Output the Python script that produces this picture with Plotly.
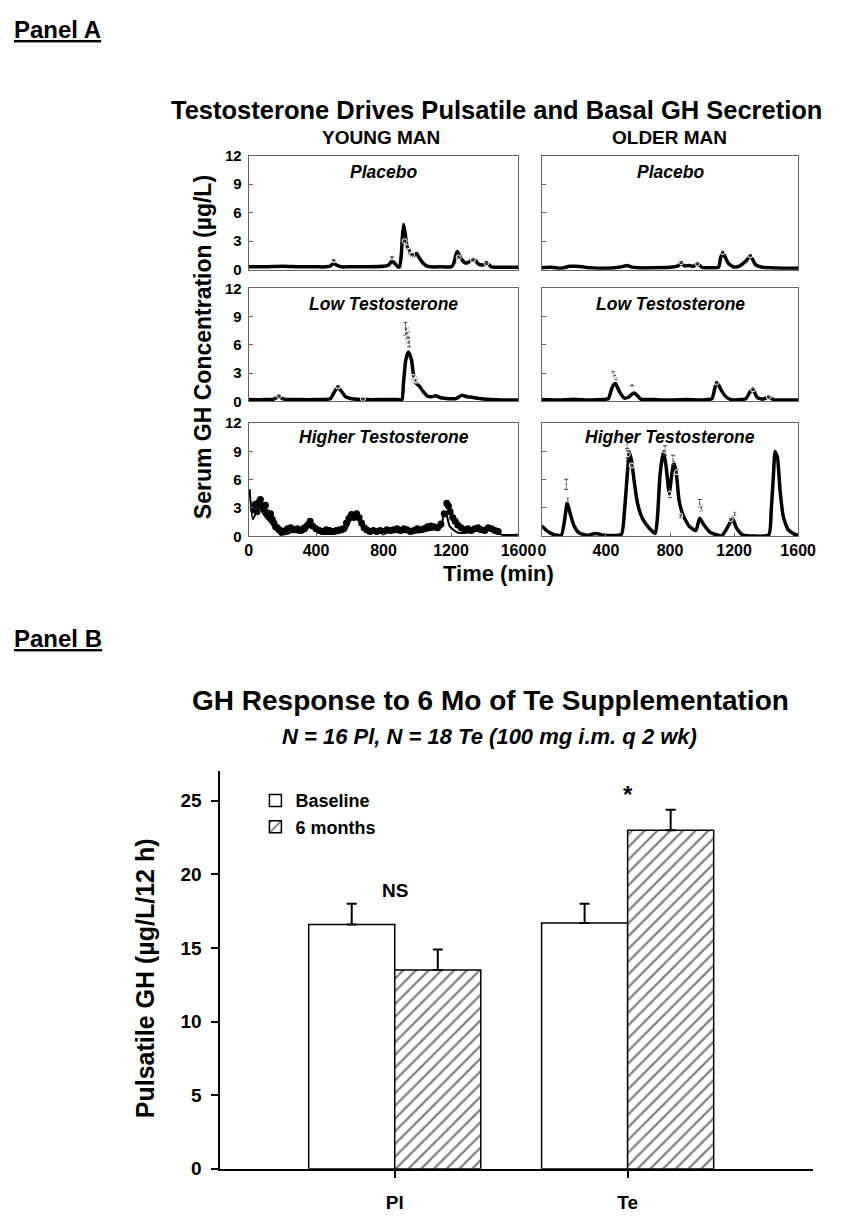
import plotly.graph_objects as go

W, H = 860, 1226
FONT = "Liberation Sans, Arial, sans-serif"


def px_x(x):
    return x / W


def px_y(y):
    return 1 - y / H


# ---------------- Panel A data (time in min, GH in ug/L) ----------------
yp_fit_t = [0, 100, 200, 300, 400, 460, 490, 505, 520, 550,
            600, 700, 800, 830, 850, 870, 885, 895, 905, 912,
            919, 928, 938, 950, 967, 980, 996, 1010, 1025, 1040,
            1054, 1080, 1150, 1200, 1215, 1228, 1237, 1250, 1266, 1285,
            1305, 1320, 1333, 1348, 1362, 1385, 1400, 1410, 1420, 1439,
            1460, 1500, 1600]
yp_fit_y = [0.3, 0.3, 0.35, 0.3, 0.3, 0.3, 0.45, 0.7, 0.5, 0.3,
            0.3, 0.3, 0.35, 0.5, 0.9, 0.6, 0.3, 0.3, 1.5, 3.5,
            4.75, 3.8, 2.6, 2.0, 1.5, 1.5, 1.7, 1.3, 0.9, 0.6,
            0.4, 0.3, 0.3, 0.3, 0.6, 1.5, 1.9, 1.5, 1.0, 0.7,
            0.8, 1.0, 1.1, 0.9, 0.6, 0.5, 0.6, 0.8, 0.6, 0.3,
            0.25, 0.25, 0.25]
yp_obs_t = [505, 850, 925, 940, 955, 970, 1245, 1330, 1410]
yp_obs_y = [1.0, 1.3, 3.0, 2.4, 2.0, 1.6, 1.3, 1.0, 0.7]
yp_obs_e = [0.05, 0.1, 0.2, 0.15, 0.1, 0.1, 0.1, 0.05, 0.05]

op_fit_t = [0, 60, 120, 172, 210, 253, 300, 400, 480, 510,
            532, 555, 600, 700, 800, 850, 870, 890, 920, 945,
            971, 1000, 1050, 1103, 1115, 1129, 1145, 1163, 1194, 1220,
            1244, 1274, 1301, 1318, 1335, 1376, 1420, 1500, 1600]
op_fit_y = [0.2, 0.25, 0.15, 0.35, 0.35, 0.3, 0.2, 0.15, 0.25, 0.35,
            0.45, 0.3, 0.2, 0.2, 0.25, 0.4, 0.7, 0.4, 0.45, 0.35,
            0.6, 0.25, 0.2, 0.25, 1.2, 1.8, 1.3, 0.7, 0.3, 0.3,
            0.5, 0.9, 1.45, 1.0, 0.5, 0.25, 0.2, 0.15, 0.15]
op_obs_t = [870, 971, 1129, 1301]
op_obs_y = [0.8, 0.65, 1.85, 1.5]
op_obs_e = [0.05, 0.05, 0.1, 0.1]

yl_fit_t = [0, 100, 150, 179, 210, 300, 400, 470, 486, 505,
            528, 550, 572, 611, 700, 800, 880, 909, 918, 932,
            947, 966, 976, 995, 1014, 1033, 1062, 1085, 1110, 1139,
            1187, 1230, 1264, 1295, 1322, 1379, 1437, 1500, 1600]
yl_fit_y = [0.2, 0.2, 0.25, 0.5, 0.25, 0.2, 0.2, 0.25, 0.3, 0.9,
            1.5, 1.1, 0.55, 0.3, 0.2, 0.2, 0.2, 0.2, 1.9, 4.4,
            5.25, 4.4, 3.0, 1.9, 1.6, 1.1, 0.55, 0.5, 0.6, 0.4,
            0.3, 0.3, 0.65, 0.5, 0.45, 0.3, 0.2, 0.15, 0.15]
yl_obs_t = [180, 530, 678, 930, 938, 945, 952, 975, 985, 995]
yl_obs_y = [0.6, 1.6, 0.3, 7.7, 7.2, 6.8, 6.3, 2.6, 2.3, 2.2]
yl_obs_e = [0.1, 0.1, 0.05, 0.7, 0.6, 0.6, 0.5, 0.3, 0.3, 0.2]

ol_fit_t = [0, 100, 200, 300, 380, 415, 435, 447, 459, 472,
            486, 516, 545, 560, 577, 597, 617, 700, 800, 900,
            1000, 1062, 1078, 1092, 1108, 1123, 1153, 1183, 1240, 1274,
            1295, 1315, 1330, 1345, 1380, 1416, 1446, 1500, 1600]
ol_fit_y = [0.2, 0.15, 0.25, 0.15, 0.2, 0.3, 1.3, 1.75, 1.9, 1.5,
            1.0, 0.35, 0.5, 0.75, 0.9, 0.6, 0.25, 0.2, 0.15, 0.2,
            0.15, 0.3, 1.3, 2.05, 1.6, 1.1, 0.45, 0.2, 0.2, 0.3,
            0.9, 1.35, 0.9, 0.4, 0.25, 0.45, 0.2, 0.15, 0.15]
ol_obs_t = [445, 452, 456, 462, 563, 1090, 1318, 1416]
ol_obs_y = [3.1, 2.8, 2.65, 2.4, 1.7, 2.0, 1.3, 0.5]
ol_obs_e = [0.1, 0.1, 0.1, 0.1, 0.05, 0.1, 0.05, 0.05]

yh_fit_t = [6, 25, 44, 64, 83, 112, 141, 170, 189, 227,
            266, 305, 343, 366, 391, 420, 478, 536, 575, 603,
            628, 652, 681, 709, 800, 900, 1000, 1060, 1114, 1143,
            1157, 1168, 1191, 1220, 1249, 1300, 1346, 1380, 1423, 1450,
            1481, 1500, 1600]
yh_fit_y = [5.0, 1.8, 2.5, 3.25, 2.5, 1.8, 1.3, 0.6, 0.15, 0.25,
            0.5, 0.35, 0.6, 1.3, 0.7, 0.35, 0.25, 0.35, 0.6, 1.65,
            2.2, 1.65, 0.7, 0.35, 0.4, 0.45, 0.4, 0.6, 0.8, 0.95,
            2.5, 2.6, 1.1, 0.6, 0.35, 0.4, 0.6, 0.45, 0.7, 0.5,
            0.35, 0.15, 0.15]
yh_obs_t = [30, 40, 50, 60, 70, 80, 90, 100, 110, 120, 130, 140, 150, 160, 170, 180, 190,
            210, 230, 250, 270, 290, 310, 330, 350, 365, 380, 400, 420, 440, 460, 480, 500, 520, 540, 560,
            580, 595, 610, 625, 640, 655, 670, 685, 700,
            720, 740, 760, 780, 800, 820, 840, 860, 880, 900, 920, 940, 960, 980, 1000, 1020, 1040, 1060,
            1080, 1100, 1120,
            1140, 1160, 1175, 1185, 1195, 1210, 1225, 1240, 1260, 1280, 1300, 1320, 1340, 1360, 1380,
            1400, 1420, 1440, 1460, 1480]
yh_obs_y = [2.8, 3.4, 2.6, 3.6, 3.9, 3.2, 2.9, 3.3, 2.5, 2.2, 2.4, 1.8, 1.4, 1.0, 0.9, 0.7, 0.6,
            0.5, 0.8, 0.9, 0.7, 0.8, 0.6, 0.9, 1.2, 1.6, 1.1, 0.8, 0.6, 0.5, 0.7, 0.6, 0.5, 0.6, 0.7, 0.8,
            1.4, 1.9, 2.3, 2.0, 2.4, 2.0, 1.4, 0.9, 0.7,
            0.5, 0.6, 0.5, 0.6, 0.5, 0.7, 0.6, 0.7, 0.8, 0.6, 0.8, 0.7, 0.5, 0.6, 0.8, 0.7, 0.8, 1.0,
            1.1, 1.0, 0.9,
            1.3, 2.4, 3.5, 3.2, 2.6, 2.0, 1.6, 1.2, 0.9, 0.7, 0.8, 0.6, 0.8, 0.9, 0.7,
            0.6, 0.9, 0.8, 0.6, 0.5]

oh_fit_t = [0, 30, 71, 121, 142, 158, 176, 202, 233, 283,
            334, 394, 496, 516, 532, 546, 560, 577, 597, 627,
            668, 708, 722, 738, 759, 775, 795, 809, 823, 840,
            856, 880, 920, 961, 985, 1012, 1052, 1123, 1167, 1190,
            1214, 1254, 1416, 1432, 1446, 1456, 1471, 1487, 1507, 1537,
            1578, 1600]
oh_fit_y = [1.1, 0.6, 0.2, 0.1, 1.75, 3.55, 2.45, 1.05, 0.35, 0.1,
            0.3, 0.1, 0.2, 2.8, 6.3, 8.9, 8.0, 5.75, 3.5, 1.9,
            0.9, 0.3, 2.1, 6.6, 9.0, 7.5, 4.5, 6.3, 7.85, 6.6,
            3.85, 2.3, 1.05, 0.6, 1.9, 1.2, 0.4, 0.05, 1.2, 1.9,
            0.9, 0.15, 0.15, 2.8, 6.6, 9.0, 8.35, 4.9, 2.1, 0.7,
            0.2, 0.1]
oh_obs_t = [152, 162, 532, 536, 560, 769, 799, 819, 844, 864, 985, 995, 1179, 1204]
oh_obs_y = [5.5, 3.9, 9.8, 8.7, 7.5, 9.1, 4.5, 8.1, 6.8, 2.15, 3.5, 3.0, 1.8, 2.35]
oh_obs_e = [0.55, 0.2, 0.5, 0.4, 0.3, 0.5, 0.4, 0.5, 0.3, 0.2, 0.4, 0.3, 0.1, 0.2]

time_ticks = [0, 400, 800, 1200, 1600]
gh_ticks = [0, 3, 6, 9, 12]
row_labels = ["Placebo", "Low Testosterone", "Higher Testosterone"]
col_labels = ["YOUNG MAN", "OLDER MAN"]

# ---------------- Panel B data ----------------
groups = ["Pl", "Te"]
baseline_vals = [16.6, 16.7]
baseline_err = [1.4, 1.3]
six_month_vals = [13.5, 23.0]
six_month_err = [1.4, 1.4]
gh_b_ticks = [0, 5, 10, 15, 20, 25]

for a, b in [(yp_fit_t, yp_fit_y), (op_fit_t, op_fit_y), (yl_fit_t, yl_fit_y),
             (ol_fit_t, ol_fit_y), (yh_fit_t, yh_fit_y), (oh_fit_t, oh_fit_y),
             (yh_obs_t, yh_obs_y), (oh_obs_t, oh_obs_y)]:
    assert len(a) == len(b), (len(a), len(b))

fig = go.Figure()

cols_px = [(251, 528), (552, 815)]
rows_px = [(149, 265), (284, 399), (421, 536)]

panels = [
    (0, 0, yp_fit_t, yp_fit_y, yp_obs_t, yp_obs_y, yp_obs_e),
    (0, 1, op_fit_t, op_fit_y, op_obs_t, op_obs_y, op_obs_e),
    (1, 0, yl_fit_t, yl_fit_y, yl_obs_t, yl_obs_y, yl_obs_e),
    (1, 1, ol_fit_t, ol_fit_y, ol_obs_t, ol_obs_y, ol_obs_e),
    (2, 0, yh_fit_t, yh_fit_y, yh_obs_t, yh_obs_y, None),
    (2, 1, oh_fit_t, oh_fit_y, oh_obs_t, oh_obs_y, oh_obs_e),
]

axis_common = dict(showline=True, mirror=True, linecolor="#666", linewidth=1,
                   showgrid=False, zeroline=False)
tickfont_a = dict(family=FONT, size=15, color="black", weight="bold")

for i, (r, c, ft, fy, ot, oy, oe) in enumerate(panels):
    n = i + 1
    xa = "x" if n == 1 else f"x{n}"
    ya = "y" if n == 1 else f"y{n}"
    x0, x1 = cols_px[c]
    y0, y1 = rows_px[r]
    bottom = r == 2
    if oe is None:
        fig.add_trace(go.Scatter(x=ot, y=oy, mode="markers", xaxis=xa, yaxis=ya,
                                 marker=dict(color="black", size=7, symbol="circle"),
                                 showlegend=False, hoverinfo="x+y"))
        lw = 2
    else:
        lw = 3.5
    fig.add_trace(go.Scatter(x=ft, y=fy, mode="lines", xaxis=xa, yaxis=ya,
                             line=dict(color="black", width=lw, shape="spline", smoothing=0.5),
                             showlegend=False))
    if oe is not None:
        fig.add_trace(go.Scatter(x=ot, y=oy, mode="markers", xaxis=xa, yaxis=ya,
                                 marker=dict(color="white", size=5, symbol="circle-open",
                                             line=dict(color="#444", width=1)),
                                 error_y=dict(type="data", array=oe, color="#444",
                                              thickness=1, width=2),
                                 showlegend=False))
    xkey = "xaxis" if n == 1 else f"xaxis{n}"
    ykey = "yaxis" if n == 1 else f"yaxis{n}"
    fig.layout[xkey] = dict(
        domain=[px_x(x0), px_x(x1)], anchor=ya, range=[0, 1600],
        tickvals=time_ticks, showticklabels=bottom,
        ticks="inside" if bottom else "", ticklen=3, tickcolor="#666",
        tickfont=dict(family=FONT, size=16, color="black", weight="bold"),
        **axis_common)
    fig.layout[ykey] = dict(
        domain=[px_y(y1), px_y(y0)], anchor=xa, range=[0, 12],
        tickvals=gh_ticks, showticklabels=(c == 0),
        ticks="inside", ticklen=4, tickcolor="#666",
        tickfont=tickfont_a, ticklabelstandoff=3,
        **axis_common)

fig.add_trace(go.Bar(x=[0, 1], y=baseline_vals, name="Baseline", xaxis="x7", yaxis="y7",
                     marker=dict(color="white", line=dict(color="black", width=1.5)),
                     error_y=dict(type="data", symmetric=False, array=baseline_err,
                                  arrayminus=[0, 0], color="black", thickness=2, width=5)))
fig.add_trace(go.Bar(x=[0, 1], y=six_month_vals, name="6 months", xaxis="x7", yaxis="y7",
                     marker=dict(color="white", line=dict(color="black", width=1.5),
                                 pattern=dict(shape="/", fgcolor="black", bgcolor="white",
                                              size=9, solidity=0.25)),
                     error_y=dict(type="data", symmetric=False, array=six_month_err,
                                  arrayminus=[0, 0], color="black", thickness=2, width=5)))

fig.update_layout(
    xaxis7=dict(domain=[px_x(222), px_x(830)], anchor="y7", range=[-0.749, 1.795],
                tickvals=[0, 1], ticktext=groups, ticks="outside", ticklen=7, tickwidth=1.5,
                tickcolor="black", showline=True, linewidth=2, linecolor="black",
                showgrid=False, zeroline=False, ticklabelstandoff=8,
                tickfont=dict(family=FONT, size=19, color="black", weight="bold")),
    yaxis7=dict(domain=[px_y(1179), px_y(775)], anchor="x7", range=[0, 27],
                tickvals=gh_b_ticks, ticks="outside", ticklen=7, tickwidth=1.5,
                tickcolor="black", showline=True, linewidth=2, linecolor="black",
                showgrid=False, zeroline=False, ticklabelstandoff=6,
                tickfont=dict(family=FONT, size=19, color="black", weight="bold")),
    barmode="group", bargap=0.261, bargroupgap=0,
)

annotations = []


def ann(text, x, y, size, rot=0, xanchor="center", yanchor="middle", **font_kw):
    annotations.append(dict(text=text, x=px_x(x), y=px_y(y), xref="paper", yref="paper",
                            showarrow=False, xanchor=xanchor, yanchor=yanchor, textangle=rot,
                            font=dict(family=FONT, size=size, color="black", **font_kw)))


ann("<b>Panel A</b>", 8, 21, 24, xanchor="left", lineposition="under")
ann("<b>Panel B</b>", 8, 640, 24, xanchor="left", lineposition="under")
ann("<b>Testosterone Drives Pulsatile and Basal GH Secretion</b>", 505, 103, 25.5)
ann("<b>" + col_labels[0] + "</b>", 387, 131, 19)
ann("<b>" + col_labels[1] + "</b>", 683, 131, 19)
row_label_y = [166, 300, 435]
for r in range(3):
    for c in range(2):
        cx = (cols_px[c][0] + cols_px[c][1]) / 2
        ann("<b><i>" + row_labels[r] + "</i></b>", cx, row_label_y[r], 17.5)
ann("<b>Serum GH Concentration (µg/L)</b>", 205, 344, 23, rot=-90)
ann("<b>Time (min)</b>", 507, 574, 22)

ann("<b>GH Response to 6 Mo of Te Supplementation</b>", 499, 703, 28)
ann("<b><i>N = 16 Pl, N = 18 Te (100 mg i.m. q 2 wk)</i></b>", 498, 740, 22)
ann("<b>Pulsatile GH (µg/L/12 h)</b>", 145, 985, 25, rot=-90)

annotations.append(dict(text="<b>NS</b>", x=0, y=18.9, xref="x7", yref="y7", showarrow=False,
                        font=dict(family=FONT, size=19, color="black")))
annotations.append(dict(text="<b>*</b>", x=1, y=25.4, xref="x7", yref="y7", showarrow=False,
                        font=dict(family=FONT, size=24, color="black")))

fig.update_layout(
    width=W, height=H, margin=dict(l=0, r=0, t=0, b=0),
    paper_bgcolor="white", plot_bgcolor="white",
    annotations=annotations,
    legend=dict(x=px_x(258), y=px_y(786), xanchor="left", yanchor="top",
                bgcolor="rgba(0,0,0,0)", tracegroupgap=2, itemwidth=30,
                font=dict(family=FONT, size=18, color="black", weight="bold")),
    showlegend=True,
)

fig.write_html("out.html", config={"displayModeBar": False},
               post_script="document.documentElement.style.margin='0px';"
                           "document.body.style.margin='0px';"
                           "document.body.style.overflow='hidden';")
